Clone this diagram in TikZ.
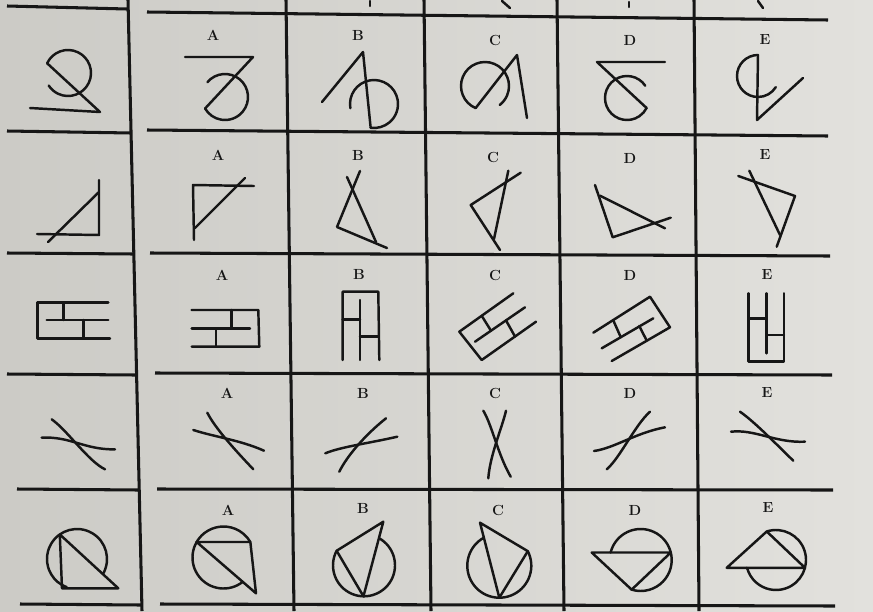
\documentclass[tikz,border=0pt]{standalone}
\usepackage{tikz}
\usetikzlibrary{calc}
\definecolor{paperL}{RGB}{204,203,198}
\definecolor{paperR}{RGB}{226,225,221}
\definecolor{ink}{RGB}{22,22,22}

\begin{document}
\begin{tikzpicture}[x=0.03cm, y=-0.03cm,
  fig/.style={ink, line width=2.1pt, line cap=round, line join=round},
  gridline/.style={ink, line width=2.6pt},
  letter/.style={ink, font=\bfseries\fontsize{12.5}{14}\selectfont, inner sep=0pt}]

% Paper
\shade[left color=paperL, right color=paperR] (0,0) rectangle (873,611);
\useasboundingbox (0,0) rectangle (873,611);

% Grid
\draw[gridline] (128,0) -- (142,611);
\foreach \xa/\xb in {286/294, 424/431, 557/564, 694/699}
  \draw[gridline] (\xa,0) -- (\xb,611);
\foreach \xs/\ya/\xe/\yb in {7/6/127/9, 7/131/131/133, 7/253/134/254, 7/374/136/375, 17/489/139/490, 20/604/141/605}
  \draw[gridline] (\xs,\ya) -- (\xe,\yb);
\foreach \xa/\ya/\xb/\yb in {147/12/828/20, 147/130/828/136, 150/253/830/256, 155/373/832/375, 157/489/833/490, 160/604/835/606}
  \draw[gridline] (\xa,\ya) -- (\xb,\yb);

% Ends of the row above
\draw[fig] (370,1) -- (370,6);
\draw[fig] (502,1) -- (510,8);
\draw[fig] (629,2) -- (629,7);
\draw[fig] (758,1) -- (763,8);

% Letters
\foreach \l/\x/\y/\r in {A/213/35/1, B/358/35/1, C/495/40/1, D/630/40/1, E/765/40/1,
                         A/218/155/2, B/358/155/2, C/493/157/2, D/630/158/2, E/765/155/2,
                         A/222/275/3, B/359/274/3, C/495/275/3, D/630/275/3, E/767/275/3,
                         A/227/393/4, B/363/393/4, C/495/393/4, D/630/393/4, E/767/393/4,
                         A/228/510/5, B/363/508/5, C/498/510/5, D/635/510/5, E/768/508/5}
  \node[letter] (\l\r) at (\x,\y) {\l};

% Row 1: circle and lines
\coordinate (q1c) at (68,73);
\draw[fig] (q1c) ++(-155:23) coordinate (q1p) arc[start angle=-155, end angle=147, radius=23];
\draw[fig] (q1p) -- (100,112) -- (30,108);

\coordinate (a1c) at (225,97);
\draw[fig] (a1c) ++(-140:23) arc[start angle=-140, end angle=150, radius=23] coordinate (a1p);
\draw[fig] (185,57) -- (253,57) -- (a1p);

\coordinate (b1c) at (374,104);
\draw[fig] (b1c) ++(170:24) arc[start angle=170, end angle=458, radius=24] coordinate (b1p);
\draw[fig] (322,102) -- (363,52) -- (b1p);

\coordinate (c1c) at (485,86);
\draw[fig] (c1c) ++(113:24) coordinate (c1p) arc[start angle=113, end angle=412, radius=24];
\draw[fig] (c1p) -- (517,55) -- (527,118);

\coordinate (d1c) at (627,98);
\draw[fig] (d1c) ++(-34:22) arc[start angle=-34, end angle=-333, radius=22] coordinate (d1p);
\draw[fig] (665,62) -- (597,62) -- (d1p);

\coordinate (e1c) at (758,76);
\draw[fig] (e1c) ++(-90:21) coordinate (e1p) arc[start angle=-90, end angle=-328, radius=21];
\draw[fig] (e1p) -- (757,120) -- (803,78);

% Row 2: triangles
\draw[fig] (99,180) -- (99,235) -- (37,234);
\draw[fig] (48,242) -- (99,192);

\draw[fig] (254,186) -- (193,185) -- (194,240);
\draw[fig] (195,228) -- (245,178);

\draw[fig] (347,177) -- (376,242);
\draw[fig] (360,171) -- (337,227) -- (387,248);

\draw[fig] (520.7,172.7) -- (470.7,205) -- (500,250);
\draw[fig] (508.3,170.7) -- (494,239);

\draw[fig] (595,185) -- (612.7,237.3) -- (670.7,217.7);
\draw[fig] (600,195.7) -- (665,228.3);

\draw[fig] (738.3,176) -- (795,196) -- (776.7,246.7);
\draw[fig] (749.3,170.7) -- (780,235);

% Row 3: bricks
\draw[fig] (108.3,302.3) -- (37.3,302.3) -- (37.3,338.3) -- (110,338.3);
\draw[fig] (46.7,320) -- (108.3,320);
\draw[fig] (63.3,302.3) -- (63.3,320);
\draw[fig] (83.3,320) -- (83.3,338.3);

\draw[fig] (191.7,310) -- (258.3,310) -- (259.3,346.7) -- (191.7,346.7);
\draw[fig] (191.7,328.3) -- (250,328.3);
\draw[fig] (231.7,310) -- (231.7,328.3);
\draw[fig] (216,328.3) -- (216,346.7);

\draw[fig] (342.7,360) -- (342.7,291.7) -- (378.3,291.7) -- (379.3,360);
\draw[fig] (360,300) -- (360,360);
\draw[fig] (342.7,319.3) -- (360,319.3);
\draw[fig] (360,336.7) -- (378.3,336.7);

\draw[fig] (513.3,293.3) -- (459.3,331.7) -- (481.7,360) -- (536,321.7);
\draw[fig] (475,341.7) -- (525,307.3);
\draw[fig] (481.7,315.8) -- (491,330.7);
\draw[fig] (506,320.4) -- (515,336.5);

\draw[fig] (593.3,332.7) -- (650,296.7) -- (670,327.3) -- (611.7,361);
\draw[fig] (601.7,348.3) -- (653.3,318.3);
\draw[fig] (613.3,320.4) -- (620.7,337);
\draw[fig] (639.3,326) -- (646.7,340.6);

\draw[fig] (748.3,293.3) -- (748.3,361.7) -- (784,361.7) -- (784,293.3);
\draw[fig] (766.7,293.3) -- (766.7,353.3);
\draw[fig] (748.3,318.3) -- (766.7,318.3);
\draw[fig] (766.7,335) -- (784,335);

% Row 4: crossing curves
\draw[fig] (41.7,437.7) .. controls (70,436) and (85,450) .. (115,449.3);
\draw[fig] (51.7,419.3) .. controls (68,431) and (88,461) .. (105,469.3);

\draw[fig] (193.3,430) .. controls (215,437) and (240,440) .. (264,450.7);
\draw[fig] (207.3,412.7) .. controls (215,428) and (235,450) .. (253.3,469.3);

\draw[fig] (325.3,453.3) .. controls (340,447) and (370,443) .. (397.3,436.7);
\draw[fig] (339.3,471.7) .. controls (347,456) and (365,435) .. (386,418.3);

\draw[fig] (483.3,410.7) .. controls (492,425) and (498,455) .. (510.7,476.7);
\draw[fig] (506,410.7) .. controls (502,428) and (490,455) .. (488.3,478.3);

\draw[fig] (594,451) .. controls (615,448) and (635,433) .. (665,427.3);
\draw[fig] (606.7,469.3) .. controls (620,458) and (635,425) .. (650,411.7);

\draw[fig] (731,431.7) .. controls (755,429) and (775,443) .. (805,441.7);
\draw[fig] (740,411.7) .. controls (755,422) and (780,448) .. (793.3,460.7);

% Row 5: circles and triangles
\coordinate (q5c) at (77,559);
\draw[fig] (q5c) ++(30:30) arc[start angle=30, end angle=-250, radius=30];
\draw[fig] ($(q5c)+(-125:30)$) -- (62,588.3) -- (118.3,588.3) -- cycle;

\coordinate (a5c) at (223.5,557.5);
\draw[fig] (a5c) ++(52:31) arc[start angle=52, end angle=330, radius=31];
\draw[fig] ($(a5c)+(210:31)$) coordinate (a5l) -- ($(a5c)+(330:31)$) -- (256,593.3) -- (a5l);

\coordinate (b5c) at (364,565.3);
\draw[fig] (b5c) ++(-61:31) arc[start angle=-61, end angle=208, radius=31];
\draw[fig] ($(b5c)+(208:31)$) -- (383.3,521.7) -- ($(b5c)+(91:31)$) -- cycle;

\coordinate (c5c) at (499.3,565.7);
\draw[fig] (c5c) ++(-27:32) arc[start angle=-27, end angle=241, radius=32];
\draw[fig] (480,522.7) -- ($(c5c)+(-27:32)$) -- ($(c5c)+(90:32)$) -- cycle;

\coordinate (d5c) at (640.7,560);
\draw[fig] (d5c) ++(194:31) arc[start angle=194, end angle=467, radius=31];
\draw[fig] (591.7,552.5) -- ($(d5c)+(-14:31)$) -- ($(d5c)+(107:31)$) -- cycle;

\coordinate (e5c) at (776,560);
\draw[fig] (e5c) ++(-108:30) arc[start angle=-108, end angle=165, radius=30];
\draw[fig] (726.7,567.8) -- ($(e5c)+(-108:30)$) -- ($(e5c)+(15:30)$) -- cycle;

\end{tikzpicture}
\end{document}
